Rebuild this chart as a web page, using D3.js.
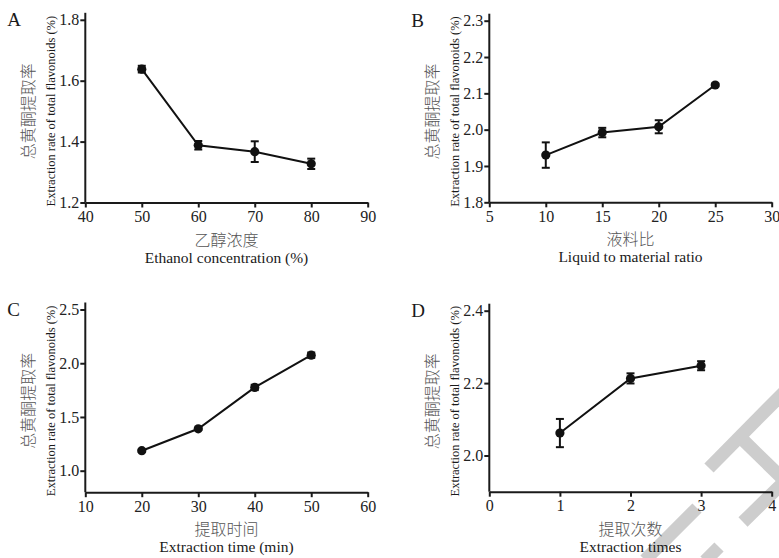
<!DOCTYPE html>
<html>
<head>
<meta charset="utf-8">
<script src="https://cdn.jsdelivr.net/npm/d3@7"></script>
<style>
  body { margin: 0; background: #fff; }
  text { font-family: "Liberation Serif", "Times New Roman", serif; fill: #1a1a1a; }
  .cjk { font-family: "Noto Sans CJK SC", sans-serif; fill: #555; font-weight: 300; }
</style>
</head>
<body>
<svg id="chart" width="779" height="558"></svg>
<script>
// data
const ethanolConc = [50, 60, 70, 80];
const rateA = [1.638, 1.388, 1.367, 1.327];
const errA = [0.011, 0.014, 0.034, 0.017];

const liquidRatio = [10, 15, 20, 25];
const rateB = [1.930, 1.992, 2.008, 2.123];
const errB = [0.035, 0.013, 0.018, 0.004];

const extractTime = [20, 30, 40, 50];
const rateC = [1.186, 1.390, 1.775, 2.075];
const errC = [0.010, 0.010, 0.025, 0.025];

const extractCount = [1, 2, 3];
const rateD = [2.062, 2.213, 2.248];
const errD = [0.039, 0.014, 0.0125];

const xTicksA = [40, 50, 60, 70, 80, 90], yTicksA = [1.2, 1.4, 1.6, 1.8];
const xTicksB = [5, 10, 15, 20, 25, 30], yTicksB = [1.8, 1.9, 2.0, 2.1, 2.2, 2.3];
const xTicksC = [10, 20, 30, 40, 50, 60], yTicksC = [1.0, 1.5, 2.0, 2.5];
const xTicksD = [0, 1, 2, 3, 4], yTicksD = [2.0, 2.2, 2.4];

const yTitleCn = "总黄酮提取率";
const yTitleEn = "Extraction rate of total flavonoids (%)";

var svg = d3.select("#chart");

// grey watermark in the lower right corner
var watermark = [
  [[790, 386], [709, 468]],
  [[740, 437], [790, 486]],
  [[790, 476], [743, 522]],
  [[697, 508], [645, 560]],
  [[719, 547], [705, 561]]
];
svg.append("g").selectAll("line")
  .data(watermark)
  .enter().append("line")
  .attr("x1", d => d[0][0]).attr("y1", d => d[0][1])
  .attr("x2", d => d[1][0]).attr("y2", d => d[1][1])
  .style("stroke", "#cdcdcd")
  .style("stroke-width", 13);

var plotW = 282.4;

function drawPanel(p) {
  var g = svg.append("g");
  var x = d3.scaleLinear().domain(d3.extent(p.xTicks)).range([p.left, p.left + plotW]);
  var y = d3.scaleLinear().domain([p.yMin, d3.max(p.yTicks)]).range([p.bottom, p.top]);

  // x axis
  var xa = g.append("g")
    .attr("transform", "translate(0," + p.bottom + ")")
    .call(d3.axisBottom(x).tickValues(p.xTicks).tickSize(5).tickSizeOuter(0).tickPadding(3)
      .tickFormat(d3.format("d")));
  // y axis
  var ya = g.append("g")
    .attr("transform", "translate(" + p.left + ",0)")
    .call(d3.axisLeft(y).tickValues(p.yTicks).tickSize(5).tickSizeOuter(0).tickPadding(1)
      .tickFormat(d3.format(".1f")));
  //extend the y axis a little above the top tick
  ya.select(".domain").attr("d", "M0," + p.bottom + "V" + (p.top - 7));

  [xa, ya].forEach(a => {
    a.select(".domain").style("stroke", "#1a1a1a").style("stroke-width", 2);
    a.selectAll(".tick line").style("stroke", "#1a1a1a").style("stroke-width", 2);
    a.selectAll(".tick text").style("font-size", "16px")
      .style("font-family", "Liberation Serif, serif").style("fill", "#222");
  });

  var pts = p.xs.map((d, i) => ({ x: d, y: p.ys[i], e: p.errs[i] }));

  // connecting line
  g.append("path")
    .datum(pts)
    .attr("d", d3.line().x(d => x(d.x)).y(d => y(d.y)))
    .style("fill", "none")
    .style("stroke", "#111")
    .style("stroke-width", 2);

  // error bars
  var eb = g.selectAll(".err").data(pts).enter().append("g").attr("class", "err");
  eb.append("line")
    .attr("x1", d => x(d.x)).attr("x2", d => x(d.x))
    .attr("y1", d => y(d.y - d.e)).attr("y2", d => y(d.y + d.e));
  eb.append("line")
    .attr("x1", d => x(d.x) - 4).attr("x2", d => x(d.x) + 4)
    .attr("y1", d => y(d.y + d.e)).attr("y2", d => y(d.y + d.e));
  eb.append("line")
    .attr("x1", d => x(d.x) - 4).attr("x2", d => x(d.x) + 4)
    .attr("y1", d => y(d.y - d.e)).attr("y2", d => y(d.y - d.e));
  eb.selectAll("line").style("stroke", "#111").style("stroke-width", 2);

  // points
  g.selectAll(".dot").data(pts).enter().append("circle")
    .attr("cx", d => x(d.x)).attr("cy", d => y(d.y))
    .attr("r", 4.6)
    .style("fill", "#111");

  // x titles
  var cx = p.left + plotW / 2;
  g.append("text").attr("class", "cjk")
    .attr("x", cx).attr("y", p.bottom + 36)
    .attr("text-anchor", "middle").attr("dominant-baseline", "central")
    .style("font-size", "16px")
    .text(p.xCn);
  g.append("text")
    .attr("x", cx).attr("y", p.bottom + 60)
    .attr("text-anchor", "middle")
    .style("font-size", "15.5px")
    .text(p.xEn);

  // y titles
  var cy = (p.top + p.bottom) / 2;
  g.append("text").attr("class", "cjk")
    .attr("transform", "translate(" + (p.left - 58) + "," + cy + ") rotate(-90)")
    .attr("text-anchor", "middle").attr("dominant-baseline", "central")
    .style("font-size", "16px")
    .text(yTitleCn);
  g.append("text")
    .attr("transform", "translate(" + (p.left - 30) + "," + cy + ") rotate(-90)")
    .attr("text-anchor", "middle")
    .style("font-size", "12.5px")
    .text(yTitleEn);

  // panel letter
  g.append("text")
    .attr("x", p.left - 78).attr("y", p.top + 6)
    .style("font-size", "19px")
    .text(p.letter);
}

drawPanel({ letter: "A", left: 85.3, bottom: 202.5, top: 19.8, yMin: 1.2,
  xs: ethanolConc, ys: rateA, errs: errA, xTicks: xTicksA, yTicks: yTicksA,
  xCn: "乙醇浓度", xEn: "Ethanol concentration (%)" });
drawPanel({ letter: "B", left: 489.3, bottom: 202.3, top: 20.7, yMin: 1.8,
  xs: liquidRatio, ys: rateB, errs: errB, xTicks: xTicksB, yTicks: yTicksB,
  xCn: "液料比", xEn: "Liquid to material ratio" });
drawPanel({ letter: "C", left: 85.3, bottom: 492.2, top: 309.5, yMin: 0.8,
  xs: extractTime, ys: rateC, errs: errC, xTicks: xTicksC, yTicks: yTicksC,
  xCn: "提取时间", xEn: "Extraction time (min)" });
drawPanel({ letter: "D", left: 489.3, bottom: 491.7, top: 310.7, yMin: 1.9,
  xs: extractCount, ys: rateD, errs: errD, xTicks: xTicksD, yTicks: yTicksD,
  xCn: "提取次数", xEn: "Extraction times" });
</script>
</body>
</html>
